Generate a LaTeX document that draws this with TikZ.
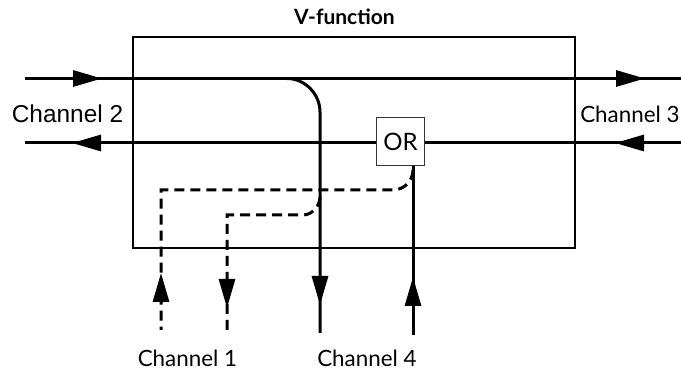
\documentclass[tikz,border=0pt]{standalone}
\usepackage{fontspec}
\setmainfont{Lato}
\newfontfamily\arialfont{Liberation Sans}
\usetikzlibrary{arrows.meta}

\begin{document}
\begin{tikzpicture}[x=0.5pt, y=-0.5pt,
	chline/.style={line width=1.5pt},
	chdash/.style={line width=1.5pt, dash pattern=on 5pt off 3pt},
	chtip/.style={line width=1.5pt, -{Triangle[length=14.5pt, width=8pt]}},
	chlabel/.style={anchor=base, inner sep=0pt, font=\fontsize{11.2}{13}\selectfont}]
	\useasboundingbox (0,0) rectangle (681,373);
	
	% function box
	\draw [line width=1.4pt] (133,37) rectangle (575,248);
	\node [anchor=base, inner sep=0pt, font=\bfseries\fontsize{10.5}{12}\selectfont] (title) at (344.5,25) {V-function};
	
	% channel 2 and channel 3
	\coordinate (c2in) at (25,78.5);
	\coordinate (c3out) at (681,78.5);
	\coordinate (c3in) at (681,143);
	\coordinate (c2out) at (25,143);
	\draw [chline] (c2in) -- (c3out);
	\draw [chline] (c3in) -- (c2out);
	
	% OR gate
	\node [draw=black!80, line width=0.75pt, fill=white, minimum size=24pt, inner sep=0pt, font=\fontsize{12}{14}\selectfont] (or) at (400.5,141.5) {OR};
	
	% channel 4
	\coordinate (bend) at (287,78.5);
	\coordinate (c4out) at (320,333);
	\coordinate (c4in) at (413,335);
	\draw [chline] (bend) .. controls +(18,0) and +(0,-18) .. (320,112) -- (c4out);
	\draw [chline] (or.south -| c4in) -- (c4in);
	
	% channel 1 (dashed)
	\coordinate (c1in) at (161,330);
	\coordinate (c1out) at (227,332);
	\draw [chdash] (413,170) .. controls +(0,11) and +(11,0) .. (393,190) -- (161,190) -- (c1in);
	\draw [chdash] (320,197) .. controls +(0,9) and +(9,0) .. (303,215) -- (227,215) -- (c1out);
	
	% arrow heads
	\draw [chtip] (72,78.5) -- (102,78.5);
	\draw [chtip] (613,78.5) -- (645,78.5);
	\draw [chtip] (102,143) -- (72,143);
	\draw [chtip] (647,143) -- (615,143);
	\draw [chtip] (320,277) -- (320,305);
	\draw [chtip] (413,305) -- (413,277);
	\draw [chtip] (161,303) -- (161,273);
	\draw [chtip] (227,279) -- (227,308);
	
	% labels
	\node [chlabel, font=\arialfont\fontsize{12.2}{14}\selectfont] (l2) at (67.5,123) {Channel 2};
	\node [chlabel] (l3) at (630,123) {Channel 3};
	\node [chlabel] (l1) at (187.5,367) {Channel 1};
	\node [chlabel] (l4) at (367,367) {Channel 4};
\end{tikzpicture}
\end{document}
